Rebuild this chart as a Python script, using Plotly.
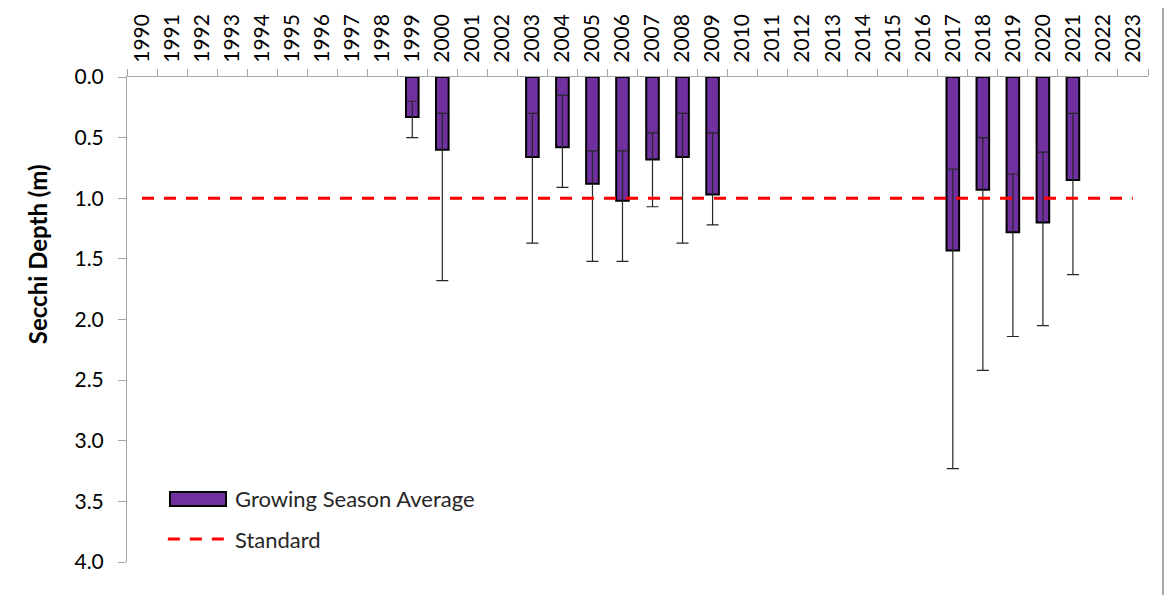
import plotly.graph_objects as go

# all years shown on the category axis
years = [str(y) for y in range(1990, 2024)]

# sampled years and growing season secchi depth (m)
sample_years = ["1999", "2000", "2003", "2004", "2005", "2006", "2007", "2008",
                "2009", "2017", "2018", "2019", "2020", "2021"]
avg_depth = [0.33, 0.60, 0.66, 0.58, 0.88, 1.02, 0.68, 0.66, 0.97, 1.43, 0.93, 1.28, 1.20, 0.85]
min_depth = [0.20, 0.30, 0.30, 0.15, 0.61, 0.61, 0.46, 0.30, 0.46, 0.76, 0.50, 0.80, 0.62, 0.30]
max_depth = [0.50, 1.68, 1.37, 0.91, 1.52, 1.52, 1.07, 1.37, 1.22, 3.23, 2.42, 2.14, 2.05, 1.63]

standard = 1.0
y_ticks = [0.0, 0.5, 1.0, 1.5, 2.0, 2.5, 3.0, 3.5, 4.0]

# expand onto the full year list
lookup = {yr: (a, lo, hi) for yr, a, lo, hi in zip(sample_years, avg_depth, min_depth, max_depth)}
bar_y = [lookup[y][0] if y in lookup else None for y in years]
err_plus = [lookup[y][2] - lookup[y][0] if y in lookup else None for y in years]
err_minus = [lookup[y][0] - lookup[y][1] if y in lookup else None for y in years]

FONT = "Lato"
AXIS_GREY = "#a6a6a6"

fig = go.Figure()

fig.add_trace(go.Bar(
    x=years, y=bar_y,
    width=0.42,
    marker=dict(color="#7030a0", line=dict(color="black", width=2)),
    error_y=dict(type="data", symmetric=False, array=err_plus, arrayminus=err_minus,
                 color="#262626", thickness=1.2, width=6),
    name="Growing Season Average",
    showlegend=False,
))

fig.add_trace(go.Scatter(
    x=years, y=[standard] * len(years),
    mode="lines",
    line=dict(color="#ff0000", width=3, dash="12px,10px"),
    name="Standard",
    showlegend=False,
))

# legend drawn by hand to match the wide Excel swatches
fig.add_shape(type="rect", xref="paper", yref="paper",
              x0=0.0421, x1=0.097, y0=0.1155, y1=0.1443,
              fillcolor="#7030a0", line=dict(color="black", width=2))
fig.add_shape(type="line", xref="paper", yref="paper",
              x0=0.040, x1=0.097, y0=0.0474, y1=0.0474,
              line=dict(color="#ff0000", width=3, dash="12px,10px"))
fig.add_annotation(text="Growing Season Average", xref="paper", yref="paper",
                   x=0.1038, y=0.130, xanchor="left", yanchor="middle",
                   showarrow=False, font=dict(family=FONT, size=22, color="#262626"))
fig.add_annotation(text="Standard", xref="paper", yref="paper",
                   x=0.1038, y=0.0474, xanchor="left", yanchor="middle",
                   showarrow=False, font=dict(family=FONT, size=22, color="#262626"))

# y axis title placed where Excel put it
fig.add_annotation(text="<b>Secchi Depth (m)</b>", xref="paper", yref="paper",
                   x=-0.088, y=0.635, textangle=-90, showarrow=False,
                   xanchor="center", yanchor="middle",
                   font=dict(family=FONT, size=24, color="black"))

# right edge of the chart area border
fig.add_shape(type="line", xref="paper", yref="paper",
              x0=1.0147, x1=1.0147, y0=-0.1, y1=1.2,
              line=dict(color="#8c8c8c", width=1.5))

# page body has an 8px margin, so the figure is 8px smaller than the window
fig.update_layout(
    width=1167, height=587,
    margin=dict(l=119, r=27, t=69, b=33),
    paper_bgcolor="white", plot_bgcolor="white",
    bargap=0.5,
    font=dict(family=FONT, color="#262626"),
)

fig.update_xaxes(
    type="category",
    side="top",
    tickangle=-90,
    tickson="boundaries",
    ticks="outside", ticklen=7, tickcolor=AXIS_GREY,
    ticklabelstandoff=9,
    showline=True, linecolor=AXIS_GREY, linewidth=1,
    showgrid=False, zeroline=False,
    automargin=False,
    tickfont=dict(family=FONT, size=21, color="black"),
)

fig.update_yaxes(
    range=[4.0, 0.0],
    tickvals=y_ticks,
    tickformat=".1f",
    ticks="outside", ticklen=8, tickcolor=AXIS_GREY,
    ticklabelstandoff=10,
    showline=True, linecolor=AXIS_GREY, linewidth=1,
    showgrid=False, zeroline=False,
    automargin=False,
    tickfont=dict(family=FONT, size=21, color="black"),
)

fig.write_html("out.html")
